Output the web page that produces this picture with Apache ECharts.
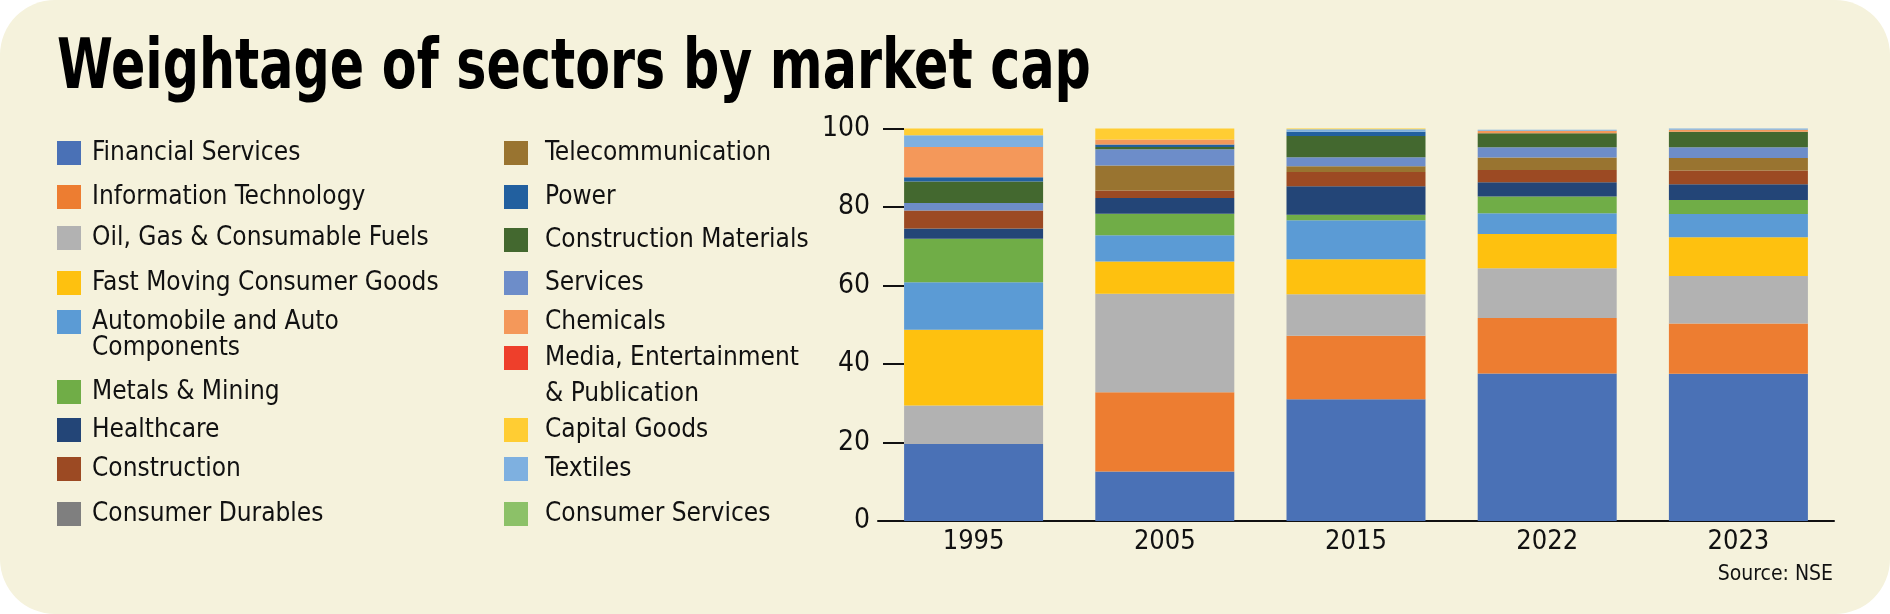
<!DOCTYPE html>
<html>
<head>
<meta charset="utf-8">
<script src="https://cdn.jsdelivr.net/npm/echarts@6/dist/echarts.min.js"></script>
<style>
  html, body { margin: 0; padding: 0; background: #ffffff; }
  #chart { width: 1890px; height: 614px; background: #f5f2dc; border-radius: 55px; }
</style>
</head>
<body>
<div id="chart"></div>
<script>
const FONT = "'Liberation Sans Narrow', 'DejaVu Sans Condensed', 'Liberation Sans', sans-serif";

const years = ['1995', '2005', '2015', '2022', '2023'];
const yTicks = [0, 20, 40, 60, 80, 100];

// share of market cap (%), bottom to top of each stack
const financial = [19.6, 12.6, 31.0, 37.6, 37.5];
const infoTech = [0, 20.2, 16.2, 14.1, 12.8];
const oilGas = [9.8, 25.1, 10.6, 12.7, 12.1];
const fmcg = [19.3, 8.2, 8.9, 8.7, 9.9];
const automobile = [12.1, 6.7, 9.9, 5.3, 5.9];
const metals = [11.1, 5.5, 1.4, 4.3, 3.6];
const healthcare = [2.6, 4.0, 7.3, 3.6, 4.0];
const construction = [4.6, 1.9, 3.6, 3.1, 3.5];
const telecom = [0, 6.4, 1.5, 3.2, 3.2];
const services = [1.9, 4.1, 2.3, 2.6, 2.7];
const constructionMaterials = [5.5, 0.6, 5.4, 3.6, 4.0];
const power = [1.1, 0.6, 1.1, 0, 0];
const chemicals = [7.7, 1.3, 0, 0.6, 0.5];
const textiles = [3.0, 0, 0.6, 0.3, 0.5];
const capitalGoods = [1.8, 3.0, 0.3, 0, 0];
const media = [0, 0, 0, 0, 0];
const consumerDurables = [0, 0, 0, 0, 0];
const consumerServices = [0, 0, 0, 0, 0];

const sectors = [
  { name: 'Financial Services', data: financial, color: '#4a71b6' },
  { name: 'Information Technology', data: infoTech, color: '#ed7d31' },
  { name: 'Oil, Gas & Consumable Fuels', data: oilGas, color: '#b2b2b2' },
  { name: 'Fast Moving Consumer Goods', data: fmcg, color: '#fec10f' },
  { name: 'Automobile and Auto Components', data: automobile, color: '#5b9bd5' },
  { name: 'Metals & Mining', data: metals, color: '#70ad47' },
  { name: 'Healthcare', data: healthcare, color: '#234577' },
  { name: 'Construction', data: construction, color: '#9c4a23' },
  { name: 'Telecommunication', data: telecom, color: '#997430' },
  { name: 'Services', data: services, color: '#6d8dc9' },
  { name: 'Construction Materials', data: constructionMaterials, color: '#43682f' },
  { name: 'Power', data: power, color: '#22609f' },
  { name: 'Chemicals', data: chemicals, color: '#f4985a' },
  { name: 'Textiles', data: textiles, color: '#7eb0e0' },
  { name: 'Capital Goods', data: capitalGoods, color: '#ffcd33' },
  { name: 'Media, Entertainment & Publication', data: media, color: '#ee3f2b' },
  { name: 'Consumer Durables', data: consumerDurables, color: '#7f7f7f' },
  { name: 'Consumer Services', data: consumerServices, color: '#8cc168' }
];

// legend layout: [name, label shown, left, centre y, text padding]
const legendSlots = [
  ['Financial Services', 'Financial Services', 57, 153, 6],
  ['Information Technology', 'Information Technology', 57, 197, 6],
  ['Oil, Gas & Consumable Fuels', 'Oil, Gas & Consumable Fuels', 57, 238, 6],
  ['Fast Moving Consumer Goods', 'Fast Moving Consumer Goods', 57, 283, 6],
  ['Automobile and Auto Components', 'Automobile and Auto', 57, 322, 6],
  ['Metals & Mining', 'Metals & Mining', 57, 392, 6],
  ['Healthcare', 'Healthcare', 57, 430, 6],
  ['Construction', 'Construction', 57, 469, 6],
  ['Consumer Durables', 'Consumer Durables', 57, 514, 6],
  ['Telecommunication', 'Telecommunication', 504, 153, 12],
  ['Power', 'Power', 504, 197, 12],
  ['Construction Materials', 'Construction Materials', 504, 240, 12],
  ['Services', 'Services', 504, 283, 12],
  ['Chemicals', 'Chemicals', 504, 322, 12],
  ['Media, Entertainment & Publication', 'Media, Entertainment', 504, 358, 12],
  ['Capital Goods', 'Capital Goods', 504, 430, 12],
  ['Textiles', 'Textiles', 504, 469, 12],
  ['Consumer Services', 'Consumer Services', 504, 514, 12]
];

const chart = echarts.init(document.getElementById('chart'));

const legends = legendSlots.map(([name, label, left, cy, pad]) => ({
  data: [name],
  left: left,
  top: cy - 14,
  padding: 0,
  itemWidth: 24,
  itemHeight: 24,
  icon: 'rect',
  selectedMode: false,
  formatter: () => label,
  textStyle: {
    fontFamily: FONT,
    fontSize: 26,
    lineHeight: 28,
    color: '#111',
    padding: [0, 0, 0, pad]
  }
}));

const option = {
  animation: false,
  legend: legends,
  grid: { left: 878, right: 56, top: 128.5, bottom: 93 },
  xAxis: {
    type: 'category',
    data: years,
    axisLine: { lineStyle: { color: '#111', width: 2 } },
    axisTick: { inside: true, length: 26, lineStyle: { color: '#111', width: 2 } },
    axisLabel: { fontFamily: FONT, fontSize: 27, color: '#111', margin: 7 }
  },
  yAxis: {
    type: 'value',
    min: 0,
    max: 100,
    interval: 20,
    offset: -5,
    axisLine: { show: false },
    axisTick: { show: true, inside: true, length: 21, lineStyle: { color: '#111', width: 2 } },
    axisLabel: {
      fontFamily: FONT,
      fontSize: 28,
      color: '#111',
      margin: 13,
      formatter: (v) => (yTicks.includes(v) ? String(v) : '')
    },
    splitLine: { show: false }
  },
  series: sectors.map((s) => ({
    name: s.name,
    type: 'bar',
    stack: 'share',
    barWidth: 139,
    itemStyle: { color: s.color },
    data: s.data
  })),
  graphic: [
    {
      // title, squeezed horizontally to match the condensed headline face
      type: 'text',
      x: 57,
      y: 35,
      scaleX: 0.805,
      style: {
        text: 'Weightage of sectors by market cap',
        font: `bold 70px ${FONT}`,
        fill: '#000',
        verticalAlign: 'top'
      }
    },
    {
      type: 'text',
      left: 92,
      top: 335,
      style: { text: 'Components', font: `26px ${FONT}`, fill: '#111' }
    },
    {
      type: 'text',
      left: 545,
      top: 381,
      style: { text: '& Publication', font: `26px ${FONT}`, fill: '#111' }
    },
    {
      type: 'text',
      right: 57,
      top: 564,
      style: { text: 'Source: NSE', font: `21px ${FONT}`, fill: '#111' }
    }
  ]
};

chart.setOption(option);
</script>
</body>
</html>
